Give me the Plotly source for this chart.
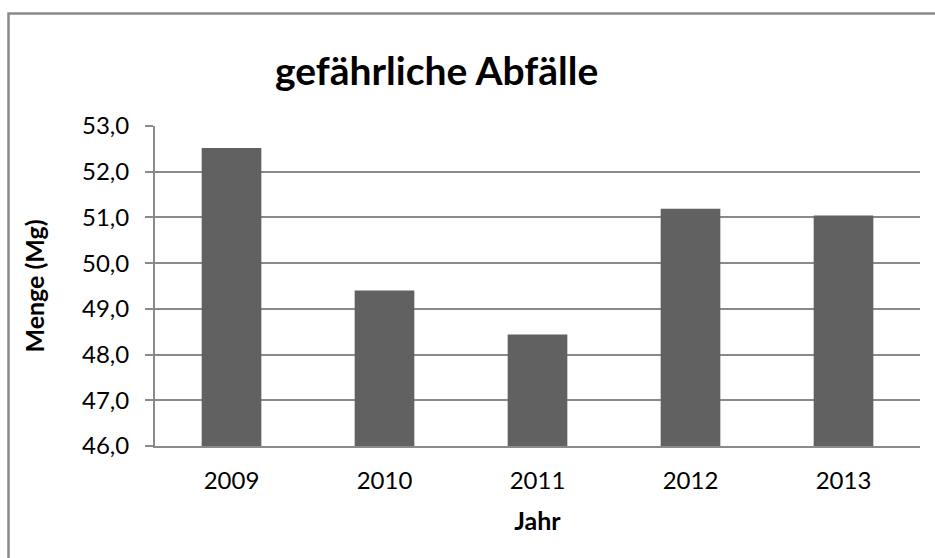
import plotly.graph_objects as go

YEARS = ["2009", "2010", "2011", "2012", "2013"]
MENGE = [52.52, 49.40, 48.44, 51.19, 51.04]

Y_TICKS = [46, 47, 48, 49, 50, 51, 52, 53]

FONT = "Lato, 'Open Sans', sans-serif"
GRID = "#8a8a8a"
BAR = "#616161"

fig = go.Figure(go.Bar(
    x=YEARS,
    y=MENGE,
    marker=dict(color=BAR, line=dict(width=0)),
    hovertemplate="%{x}: %{y:.2f} Mg<extra></extra>",
))

fig.update_layout(
    width=935,
    height=558,
    separators=",.",
    paper_bgcolor="white",
    plot_bgcolor="white",
    font=dict(family=FONT, color="black", size=24),
    bargap=0.61,
    showlegend=False,
    margin=dict(l=155, r=15, t=126, b=112),
    title=dict(
        text="<b>gefährliche Abfälle</b>",
        x=0.467, xanchor="center",
        y=0.872, yanchor="middle",
        font=dict(size=39, family=FONT, color="black"),
    ),
    xaxis=dict(
        type="category",
        showline=True, linecolor=GRID, linewidth=2,
        showgrid=False,
        ticks="", ticklabelstandoff=12,
        title=dict(text="<b>Jahr</b>", font=dict(size=25), standoff=20),
    ),
    yaxis=dict(
        range=[46, 53],
        tickvals=Y_TICKS,
        tickformat=".1f",
        showline=True, linecolor=GRID, linewidth=2,
        showgrid=True, gridcolor=GRID, gridwidth=1.5,
        ticks="outside", ticklen=8, tickcolor=GRID, tickwidth=1.5,
        ticklabelstandoff=11,
        zeroline=False,
        title=dict(text="<b>Menge (Mg)</b>", font=dict(size=25), standoff=30),
    ),
)

# chart-area frame (runs off the right and bottom edges like the source)
fig.add_shape(
    type="rect", xref="paper", yref="paper",
    x0=-0.1915, x1=1.05, y0=-0.40, y1=1.3516,
    line=dict(color="#8a8a8a", width=2.5),
    fillcolor="rgba(0,0,0,0)", layer="below",
)

# drop the browser's default 8px body margin so the figure sits at (0, 0)
fig.write_html(
    "out.html",
    config={"displayModeBar": False},
    post_script="document.body.style.margin='0';",
)
